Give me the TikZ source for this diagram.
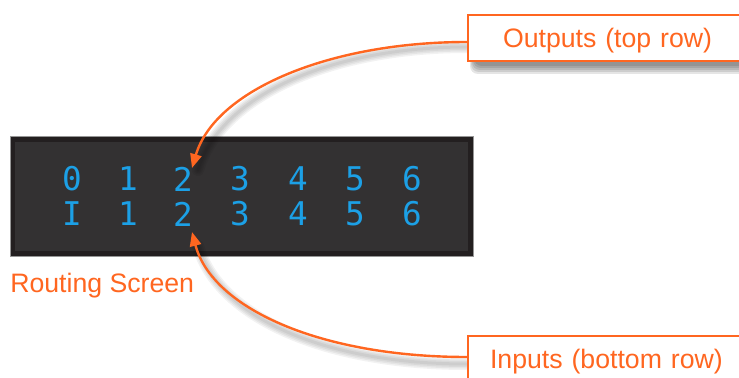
\documentclass[tikz,border=0pt]{standalone}
\usepackage{fontspec}
\setmainfont{Liberation Sans}
\newfontfamily\lcdfont{DejaVu Sans Mono}
\usetikzlibrary{arrows.meta}
\definecolor{callorange}{RGB}{255,102,32}
\definecolor{lcdblue}{RGB}{28,160,230}
\definecolor{screenouter}{RGB}{35,31,32}
\definecolor{screeninner}{RGB}{51,49,50}
\definecolor{screenedge}{RGB}{150,150,150}
\tikzset{
  callbox/.style={draw=callorange, line width=1.6pt, fill=white, font=\fontsize{20}{24}\selectfont,
    text=callorange, align=left, text height=14.25pt},
  calltext/.style={text=callorange, font=\fontsize{20}{24}\selectfont, inner sep=0pt},
  lcddigit/.style={text=lcdblue, font=\lcdfont\fontsize{24.5}{26}\selectfont, inner sep=0pt},
  callarrow/.style={draw=callorange, line width=1.8pt, -{Triangle[length=10.5pt,width=8.5pt]}},
  shadowline/.style={draw=black, line cap=round, opacity=0.05},
}
\begin{document}
\begin{tikzpicture}[x=0.75pt,y=-0.75pt]
\useasboundingbox (0,0) rectangle (739,378);
\fill[white] (0,0) rectangle (739,378);

% screen
\node[draw=screenedge, line width=0.6pt, fill=screenouter, anchor=north west,
  minimum width=347.25pt, minimum height=90pt, inner sep=0pt] (screen) at (10,136) {};
\fill[screeninner] (15,142) rectangle (468,251);

% digits
\foreach \d/\x in {0/72,1/128,2/183,3/240,4/298,5/355,6/412}{
  \node[lcddigit] (o\d) at (\x,179) {\d};
}
\node[lcddigit] (i0) at (72,214) {I};
\foreach \d/\x in {1/128,2/183,3/240,4/298,5/355,6/412}{
  \node[lcddigit] (i\d) at (\x,214) {\d};
}

% Routing Screen label
\node[calltext, anchor=base west] (label) at (10,292) {Routing Screen};

% shadows of the arrows
\foreach \w in {12,9,6,3}{
  \draw[shadowline, line width=\w*0.75pt] (467,47) .. controls (330,47) and (220,96) .. (198,170);
  \draw[shadowline, line width=\w*0.75pt] (467,364) .. controls (322,364) and (218,316) .. (198,246);
}

% shadow of the outputs box
\foreach \e in {0,2,4,6,8}{
  \fill[black, opacity=0.1, rounded corners=6pt] (474-\e*0.5,24-\e*0.3) rectangle (780+\e,66+\e);
}
\foreach \e in {0,2,4,6}{
  \fill[black, opacity=0.07, rounded corners=6pt] (474-\e*0.5,343-\e*0.3) rectangle (780+\e,400);
}

% callout boxes
\node[callbox, anchor=north west, inner xsep=26.25pt, inner ysep=10pt, text depth=0pt,
  text width=172.5pt] (outbox) at (467,14) {Outputs (top row)};
\node[callbox, anchor=north west, inner xsep=16.5pt, inner ysep=9.75pt, text depth=22pt,
  text width=200pt] (inbox) at (467,335) {Inputs (bottom row)};

% connectors
\coordinate (outstart) at (outbox.west |- 0,42);
\coordinate (otip) at (192,168);
\coordinate (instart) at (inbox.west |- 0,357);
\coordinate (itip) at (192,232);
\draw[callarrow] (outstart) .. controls (330,42) and (215,90) .. (otip);
\draw[callarrow] (instart) .. controls (320,357) and (212,308) .. (itip);
\end{tikzpicture}
\end{document}
